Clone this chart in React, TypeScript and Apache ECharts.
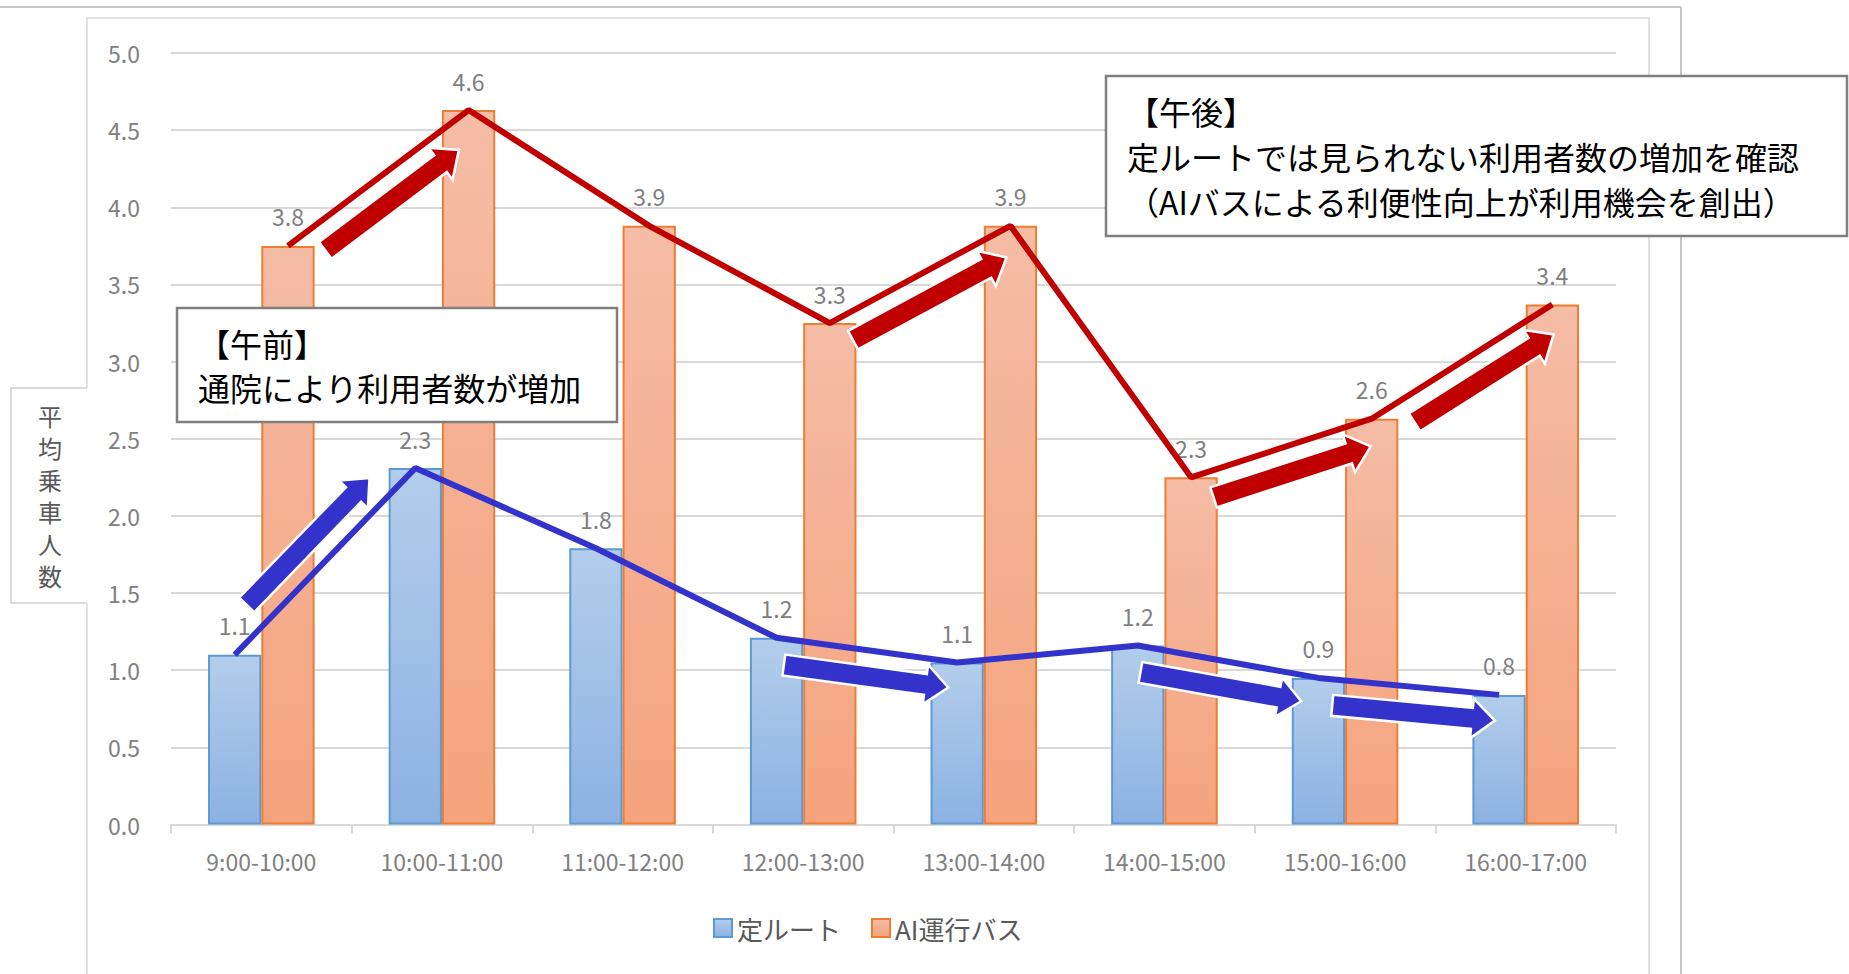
import React, { useEffect, useRef } from "react";
import * as echarts from "echarts";

const categories = [
  "9:00-10:00",
  "10:00-11:00",
  "11:00-12:00",
  "12:00-13:00",
  "13:00-14:00",
  "14:00-15:00",
  "15:00-16:00",
  "16:00-17:00",
];
const fixedRoute = [1.1, 2.31, 1.79, 1.21, 1.05, 1.16, 0.95, 0.84];
const aiBus = [3.75, 4.63, 3.88, 3.25, 3.88, 2.25, 2.63, 3.37];
const seriesNames = ["定ルート", "AI運行バス"];
const yAxisTitle = "平均乗車人数";
const yMin = 0;
const yMax = 5;
const yInterval = 0.5;

// annotation arrows: segment start index, side of the trend line, start/end fraction along segment
const fixedArrowSegments = [0, 3, 5, 6];
const fixedArrowSides = [-1, 1, 1, 1];
const fixedArrowFrom = [0.17, 0.06, 0.04, 0.09];
const fixedArrowTo = [0.85, 0.97, 0.93, 0.99];
const aiArrowSegments = [0, 3, 5, 6];
const aiArrowSides = [1, 1, 1, 1];
const aiArrowFrom = [0.12, 0.06, 0.08, 0.16];
const aiArrowTo = [0.86, 0.91, 0.95, 0.93];

const noteAM = ["【午前】", "通院により利用者数が増加"];
const notePM = [
  "【午後】",
  "定ルートでは見られない利用者数の増加を確認",
  "（AIバスによる利便性向上が利用機会を創出）",
];

const FONT = '"Noto Sans CJK JP", "Noto Sans", sans-serif';
const BLUE_LINE = "#3333cc";
const RED_LINE = "#c00000";
const CAT_GAP = 0.41;
const HALF_BAR = (1 - CAT_GAP) / 4; // bar center offset in category units

function arrowSeries(
  values: number[],
  segs: number[],
  sides: number[],
  from: number[],
  to: number[],
  shift: number,
  color: string
) {
  return {
    type: "custom",
    xAxisIndex: 1,
    yAxisIndex: 0,
    z: 6,
    silent: true,
    data: segs.map((s, k) => [s + 0.5 + shift, values[s], sides[k], s, from[k], to[k]]),
    renderItem: (_params: any, api: any) => {
      const s = api.value(3);
      const side = api.value(2);
      const f0 = api.value(4);
      const f1 = api.value(5);
      const p1 = api.coord([s + 0.5 + shift, values[s]]);
      const p2 = api.coord([s + 1.5 + shift, values[s + 1]]);
      const dx = p2[0] - p1[0];
      const dy = p2[1] - p1[1];
      const L = Math.sqrt(dx * dx + dy * dy);
      const u = [dx / L, dy / L];
      const n = [-u[1], u[0]];
      const d = 26 * side;
      const w = 10.5;
      const hw = 20;
      const hl = 23;
      const a = L * f0;
      const tip = L * f1;
      const b = tip - hl;
      const c = (t: number, o: number) => [
        p1[0] + u[0] * t + n[0] * (d + o),
        p1[1] + u[1] * t + n[1] * (d + o),
      ];
      const points = [c(a, -w), c(b, -w), c(b, -hw), c(tip, 0), c(b, hw), c(b, w), c(a, w)];
      return {
        type: "polygon",
        shape: { points },
        style: { fill: color, stroke: "#ffffff", lineWidth: 2.5 },
      };
    },
  };
}

export default function App() {
  const ref = useRef<HTMLDivElement>(null);
  useEffect(() => {
    if (!ref.current) return;
    const chart = echarts.init(ref.current, undefined, { renderer: "svg" });
    const labelStyle = {
      show: true,
      position: "top",
      distance: 18,
      color: "#808080",
      fontSize: 23,
      fontFamily: FONT,
      formatter: (p: any) => Number(p.value).toFixed(1),
    };
    const option: any = {
      animation: false,
      backgroundColor: "#ffffff",
      textStyle: { fontFamily: FONT },
      grid: { left: 171, right: 233, top: 53, bottom: 149.5, containLabel: false },
      legend: {
        data: seriesNames,
        left: 713,
        top: 915,
        padding: 0,
        itemWidth: 18,
        itemHeight: 18,
        itemGap: 30,
        icon: "rect",
        textStyle: { fontSize: 26, color: "#595959", fontFamily: FONT },
      },
      xAxis: [
        {
          type: "category",
          data: categories,
          axisLine: { lineStyle: { color: "#d9d9d9", width: 2 } },
          axisTick: { show: true, length: 9, lineStyle: { color: "#d9d9d9", width: 2 } },
          axisLabel: { color: "#808080", fontSize: 23, margin: 25, fontFamily: FONT },
          splitLine: { show: false },
        },
        { type: "value", min: 0, max: categories.length, show: false },
      ],
      yAxis: {
        type: "value",
        min: yMin,
        max: yMax,
        interval: yInterval,
        axisLine: { show: false },
        axisTick: { show: false },
        axisLabel: {
          color: "#808080",
          fontSize: 23,
          margin: 31,
          fontFamily: FONT,
          formatter: (v: number) => v.toFixed(1),
        },
        splitLine: { lineStyle: { color: "#d9d9d9", width: 2 } },
      },
      series: [
        {
          name: seriesNames[0],
          type: "bar",
          data: fixedRoute,
          barGap: "0%",
          barCategoryGap: CAT_GAP * 100 + "%",
          itemStyle: {
            color: new echarts.graphic.LinearGradient(0, 0, 0, 1, [
              { offset: 0, color: "#b3cdeb" },
              { offset: 1, color: "#8cb2e2" },
            ]),
            borderColor: "#5b9bd5",
            borderWidth: 2,
          },
          label: labelStyle,
        },
        {
          name: seriesNames[1],
          type: "bar",
          data: aiBus,
          barGap: "0%",
          barCategoryGap: CAT_GAP * 100 + "%",
          itemStyle: {
            color: new echarts.graphic.LinearGradient(0, 0, 0, 1, [
              { offset: 0, color: "#f5bca6" },
              { offset: 1, color: "#f5a37d" },
            ]),
            borderColor: "#ed7d31",
            borderWidth: 2,
          },
          label: labelStyle,
        },
        {
          type: "line",
          xAxisIndex: 1,
          z: 5,
          silent: true,
          symbol: "none",
          data: fixedRoute.map((v, i) => [i + 0.5 - HALF_BAR, v]),
          lineStyle: { color: BLUE_LINE, width: 6 },
        },
        {
          type: "line",
          xAxisIndex: 1,
          z: 5,
          silent: true,
          symbol: "none",
          data: aiBus.map((v, i) => [i + 0.5 + HALF_BAR, v]),
          lineStyle: { color: RED_LINE, width: 6 },
        },
        arrowSeries(fixedRoute, fixedArrowSegments, fixedArrowSides, fixedArrowFrom, fixedArrowTo, -HALF_BAR, BLUE_LINE),
        arrowSeries(aiBus, aiArrowSegments, aiArrowSides, aiArrowFrom, aiArrowTo, HALF_BAR, RED_LINE),
      ],
      graphic: [
        // chart frames
        { type: "line", shape: { x1: 0, y1: 7, x2: 1681, y2: 7 }, style: { stroke: "#c6c6c6", lineWidth: 2 } },
        { type: "line", shape: { x1: 1681, y1: 7, x2: 1681, y2: 974 }, style: { stroke: "#c6c6c6", lineWidth: 2 } },
        { type: "line", shape: { x1: 87, y1: 18, x2: 1649, y2: 18 }, style: { stroke: "#d9d9d9", lineWidth: 1.5 } },
        { type: "line", shape: { x1: 1649, y1: 18, x2: 1649, y2: 974 }, style: { stroke: "#d9d9d9", lineWidth: 1.5 } },
        { type: "line", shape: { x1: 87, y1: 18, x2: 87, y2: 388 }, style: { stroke: "#d9d9d9", lineWidth: 1.5 } },
        { type: "line", shape: { x1: 87, y1: 603, x2: 87, y2: 974 }, style: { stroke: "#d9d9d9", lineWidth: 1.5 } },
        // y-axis title box
        {
          type: "polyline",
          shape: { points: [[87, 388], [11, 388], [11, 603], [87, 603]] },
          style: { stroke: "#d0d0d0", lineWidth: 1.5, fill: null },
        },
        ...yAxisTitle.split("").map((ch, i) => ({
          type: "text",
          x: 50,
          y: 415 + i * 32,
          style: {
            text: ch,
            font: `24px ${FONT}`,
            fill: "#595959",
            align: "center",
            verticalAlign: "middle",
          },
        })),
        // morning note
        {
          type: "rect",
          shape: { x: 177, y: 308, width: 440, height: 114 },
          style: { fill: "#ffffff", stroke: "#7f7f7f", lineWidth: 2.5 },
          z: 100,
        },
        ...noteAM.map((t, i) => ({
          type: "text",
          x: 198,
          y: 343 + i * 44,
          z: 101,
          style: { text: t, font: `32px ${FONT}`, fill: "#000000", verticalAlign: "middle" },
        })),
        // afternoon note
        {
          type: "rect",
          shape: { x: 1106, y: 76, width: 741, height: 160 },
          style: { fill: "#ffffff", stroke: "#7f7f7f", lineWidth: 2.5 },
          z: 100,
        },
        ...notePM.map((t, i) => ({
          type: "text",
          x: 1127,
          y: 111 + i * 45,
          z: 101,
          style: { text: t, font: `32px ${FONT}`, fill: "#000000", verticalAlign: "middle" },
        })),
      ],
    };
    chart.setOption(option);
    return () => chart.dispose();
  }, []);
  return (
    <div
      ref={ref}
      style={{ position: "fixed", left: 0, top: 0, width: 1849, height: 974, background: "#fff" }}
    />
  );
}
